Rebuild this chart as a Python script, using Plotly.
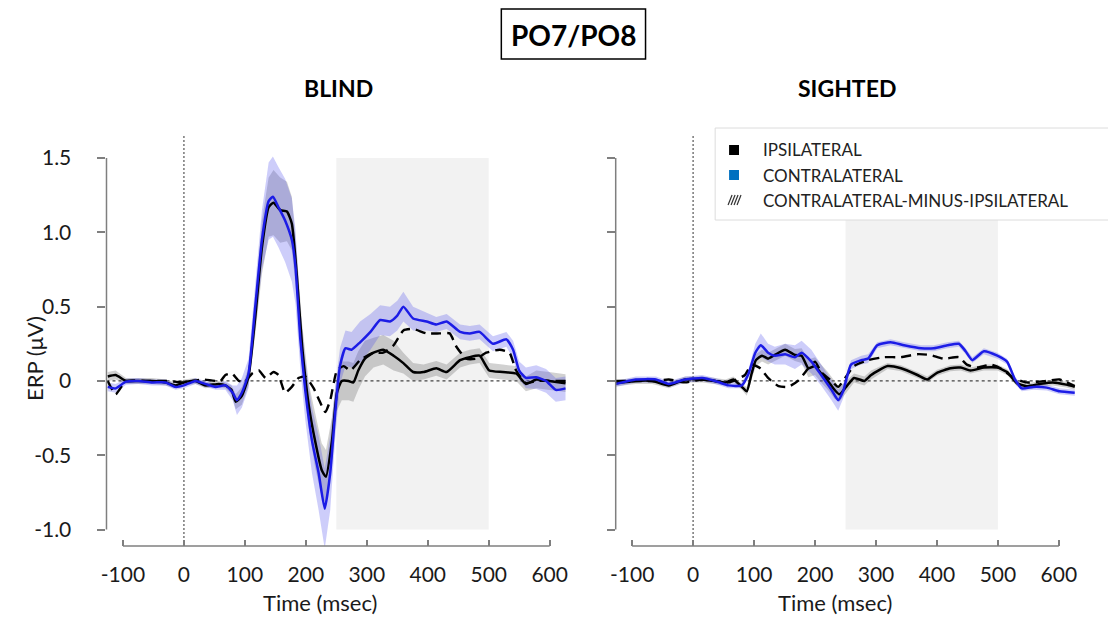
import plotly.graph_objects as go

# ---------------- data ----------------
x_tick_vals = [-100, 0, 100, 200, 300, 400, 500, 600]
x_tick_text = ["-100", "0", "100", "200", "300", "400", "500", "600"]
y_tick_vals = [-1.0, -0.5, 0.0, 0.5, 1.0, 1.5]
y_tick_text = ["-1.0", "-0.5", "0", "0.5", "1.0", "1.5"]
window = [250, 500]

# BLIND
blind_contra_t = [-125, -112, -95, -75, -52, -30, -14, 0, 19, 35, 52, 68, 80, 87, 95, 106, 117, 128, 139, 146,
                  155, 166, 177, 183, 191, 199, 210, 221, 231, 240, 248, 256, 265, 275, 289, 306, 322, 338, 350,
                  360, 376, 398, 414, 431, 453, 469, 485, 507, 529, 540, 550, 561, 578, 594, 610, 626]
blind_contra_v = [-0.04, -0.05, -0.005, 0.0, -0.01, -0.01, -0.04, -0.03, 0.0, -0.02, -0.04, -0.03, -0.08, -0.13,
                  -0.08, 0.05, 0.5, 0.95, 1.21, 1.24, 1.17, 1.08, 0.95, 0.77, 0.28, -0.06, -0.4, -0.62, -0.86,
                  -0.62, -0.22, 0.1, 0.22, 0.21, 0.26, 0.33, 0.41, 0.40, 0.44, 0.50, 0.42, 0.40, 0.38, 0.40, 0.33,
                  0.32, 0.33, 0.25, 0.28, 0.21, 0.07, 0.02, 0.025, 0.0, -0.06, -0.05]
blind_contra_se = [0.03, 0.03, 0.02, 0.02, 0.02, 0.02, 0.02, 0.02, 0.02, 0.02, 0.02, 0.03, 0.05, 0.1, 0.1, 0.1,
                   0.15, 0.2, 0.26, 0.27, 0.27, 0.28, 0.28, 0.25, 0.2, 0.2, 0.22, 0.25, 0.27, 0.25, 0.18, 0.12,
                   0.12, 0.12, 0.14, 0.12, 0.1, 0.1, 0.1, 0.1, 0.08, 0.06, 0.05, 0.05, 0.05, 0.05, 0.05, 0.05,
                   0.05, 0.06, 0.06, 0.07, 0.08, 0.08, 0.08, 0.08]

blind_ipsi_t = [-125, -112, -95, -74, -52, -30, -14, 0, 19, 35, 57, 68, 78, 85, 95, 106, 117, 128, 139, 147, 158,
                169, 177, 185, 194, 205, 215, 226, 233, 243, 251, 259, 270, 278, 286, 297, 311, 327, 344, 360, 376,
                393, 414, 431, 453, 469, 485, 501, 523, 545, 561, 578, 599, 626]
blind_ipsi_v = [0.03, 0.04, 0.0, 0.0, 0.0, -0.01, -0.03, -0.01, 0.0, -0.03, -0.02, -0.03, -0.06, -0.14, -0.1,
                0.03, 0.43, 0.9, 1.17, 1.2, 1.15, 1.14, 1.06, 0.72, 0.23, -0.17, -0.4, -0.6, -0.645, -0.4, -0.08,
                0.0, 0.0, -0.01, 0.07, 0.15, 0.19, 0.21, 0.17, 0.12, 0.06, 0.06, 0.085, 0.06, 0.14, 0.16, 0.17,
                0.07, 0.06, 0.05, -0.02, 0.01, 0.0, -0.015]
blind_ipsi_se = [0.03, 0.03, 0.02, 0.02, 0.02, 0.02, 0.02, 0.02, 0.02, 0.02, 0.02, 0.02, 0.03, 0.05, 0.06, 0.06,
                 0.12, 0.18, 0.2, 0.22, 0.22, 0.2, 0.18, 0.15, 0.15, 0.15, 0.18, 0.18, 0.18, 0.16, 0.12, 0.13,
                 0.13, 0.13, 0.13, 0.12, 0.1, 0.1, 0.1, 0.07, 0.06, 0.05, 0.05, 0.05, 0.05, 0.05, 0.05, 0.05,
                 0.05, 0.05, 0.05, 0.06, 0.06, 0.06]

blind_diff_t = [-125, -112, -95, -60, -30, 0, 30, 60, 68, 79, 90, 101, 112, 123, 134, 147, 155, 166, 177, 188,
                199, 213, 222, 232, 240, 251, 262, 273, 289, 311, 327, 344, 360, 376, 398, 420, 436, 447, 463, 480,
                496, 518, 534, 545, 561, 578, 599, 626]
blind_diff_v = [0.0, -0.09, 0.0, 0.0, 0.0, -0.01, 0.01, 0.0, 0.04, 0.05, 0.0, 0.0, 0.05, 0.07, 0.02, 0.06, 0.04,
                -0.08, -0.04, 0.02, 0.03, -0.05, -0.13, -0.21, -0.13, 0.07, 0.10, 0.07, 0.14, 0.19, 0.19, 0.24,
                0.34, 0.35, 0.32, 0.32, 0.32, 0.23, 0.15, 0.15, 0.19, 0.21, 0.19, 0.07, -0.015, 0.0, 0.0, 0.0]

# SIGHTED
sighted_contra_t = [-127, -94, -61, -40, -13, 15, 36, 58, 80, 91, 102, 111, 123, 134, 151, 167, 178, 194, 210,
                    227, 238, 246, 259, 276, 287, 302, 324, 346, 374, 395, 417, 436, 447, 458, 477, 499, 515, 528,
                    539, 558, 580, 601, 626]
sighted_contra_v = [-0.02, 0.01, 0.01, -0.02, 0.01, 0.02, 0.0, -0.03, -0.03, 0.05, 0.19, 0.24, 0.19, 0.17, 0.18,
                    0.16, 0.19, 0.13, 0.04, -0.06, -0.13, -0.07, 0.11, 0.14, 0.15, 0.24, 0.26, 0.24, 0.22, 0.22,
                    0.24, 0.25, 0.2, 0.14, 0.2, 0.17, 0.13, 0.01, -0.05, -0.04, -0.045, -0.07, -0.08]
sighted_contra_se = [0.02, 0.02, 0.02, 0.02, 0.02, 0.02, 0.02, 0.02, 0.02, 0.03, 0.06, 0.08, 0.06, 0.06, 0.07,
                     0.08, 0.08, 0.08, 0.07, 0.07, 0.07, 0.05, 0.03, 0.03, 0.03, 0.02, 0.02, 0.02, 0.02, 0.02,
                     0.02, 0.02, 0.02, 0.02, 0.02, 0.02, 0.02, 0.02, 0.02, 0.02, 0.02, 0.02, 0.02]

sighted_ipsi_t = [-127, -94, -67, -40, -13, 15, 36, 53, 66, 80, 88, 96, 103, 113, 123, 134, 151, 167, 178, 189,
                  200, 210, 221, 232, 240, 251, 264, 281, 292, 319, 341, 368, 384, 400, 422, 439, 455, 477, 499,
                  515, 531, 547, 569, 590, 612, 626]
sighted_ipsi_v = [-0.015, 0.0, 0.0, -0.03, 0.01, 0.01, 0.0, -0.01, 0.01, -0.04, -0.07, 0.05, 0.14, 0.17, 0.15,
                  0.175, 0.21, 0.175, 0.17, 0.085, 0.1, 0.05, 0.0, -0.06, -0.09, -0.04, 0.02, 0.0, 0.04, 0.1,
                  0.085, 0.04, 0.01, 0.055, 0.085, 0.09, 0.07, 0.09, 0.09, 0.06, -0.015, -0.035, -0.02, -0.01,
                  -0.025, -0.04]
sighted_ipsi_se = [0.02, 0.02, 0.02, 0.02, 0.02, 0.02, 0.02, 0.02, 0.02, 0.02, 0.03, 0.04, 0.04, 0.04, 0.04,
                   0.04, 0.04, 0.04, 0.05, 0.06, 0.06, 0.06, 0.06, 0.06, 0.05, 0.04, 0.03, 0.03, 0.03, 0.02,
                   0.02, 0.02, 0.02, 0.02, 0.02, 0.02, 0.02, 0.02, 0.02, 0.02, 0.02, 0.02, 0.02, 0.02, 0.02, 0.02]

sighted_diff_t = [-127, -94, -61, -40, -13, 15, 58, 85, 96, 110, 123, 140, 156, 172, 189, 200, 210, 227, 238,
                  251, 264, 287, 313, 341, 368, 389, 411, 436, 449, 466, 488, 504, 526, 547, 580, 601, 626]
sighted_diff_v = [0.0, 0.0, 0.0, 0.01, -0.01, 0.01, -0.01, 0.04, 0.11, 0.085, 0.02, -0.035, -0.04, 0.0, 0.085,
                  0.13, 0.06, 0.0, -0.04, 0.03, 0.1, 0.14, 0.16, 0.16, 0.18, 0.175, 0.15, 0.16, 0.11, 0.09,
                  0.11, 0.085, 0.02, -0.01, 0.0, 0.01, -0.035]

legend_labels = ["IPSILATERAL", "CONTRALATERAL", "CONTRALATERAL-MINUS-IPSILATERAL"]
panel_titles = ["BLIND", "SIGHTED"]

# ---------------- styling ----------------
OFF = 8                      # page body margin in the browser
W, H = 1116 - 2 * OFF, 625 - 2 * OFF
FONT = "Lato"
BLUE = "#1c1ce6"
CONTRA_BAND = "rgba(70,70,235,0.27)"
IPSI_BAND = "rgba(90,90,90,0.28)"
AXIS_GRAY = "#7f7f7f"
TEXT = "#1a1a1a"
X_RANGE = [-127, 630]
Y_RANGE = [-1.111, 1.66]


def px(x):
    return (x - OFF) / W


def py(y):
    return 1 - (y - OFF) / H


fig = go.Figure()


def band(t, v, se, color, xa, ya):
    upper = [a + b for a, b in zip(v, se)]
    lower = [a - b for a, b in zip(v, se)]
    fig.add_trace(go.Scatter(x=list(t) + list(t)[::-1], y=upper + lower[::-1], fill="toself",
                             fillcolor=color, line=dict(width=0), mode="lines", hoverinfo="skip",
                             showlegend=False, xaxis=xa, yaxis=ya))


def line(t, v, color, xa, ya, dash="solid", width=2.5):
    fig.add_trace(go.Scatter(x=t, y=v, mode="lines",
                             line=dict(color=color, width=width, dash=dash, shape="spline", smoothing=0.5),
                             showlegend=False, xaxis=xa, yaxis=ya))


panels = [
    ("x", "y", blind_contra_t, blind_contra_v, blind_contra_se, blind_ipsi_t, blind_ipsi_v, blind_ipsi_se,
     blind_diff_t, blind_diff_v),
    ("x2", "y2", sighted_contra_t, sighted_contra_v, sighted_contra_se, sighted_ipsi_t, sighted_ipsi_v,
     sighted_ipsi_se, sighted_diff_t, sighted_diff_v),
]
for xa, ya, ct, cv, cse, it, iv, ise, dt, dv in panels:
    band(it, iv, ise, IPSI_BAND, xa, ya)
    band(ct, cv, cse, CONTRA_BAND, xa, ya)
    line(dt, dv, "black", xa, ya, dash="10px,6px", width=2.4)
    line(it, iv, "black", xa, ya)
    line(ct, cv, BLUE, xa, ya)

# axis geometry (pixels in the page)
x_dom_px = [(101, 565), (613, 1077)]
y_top_px, y_bot_px = 134.3, 546

axis_common = dict(range=X_RANGE, tickvals=x_tick_vals, ticktext=x_tick_text, ticks="inside", ticklen=6,
                   tickwidth=1.5, tickcolor=AXIS_GRAY, showline=False, showgrid=False, zeroline=False,
                   tickfont=dict(family=FONT, size=21, color=TEXT), ticklabelstandoff=14)
yaxis_common = dict(range=Y_RANGE, tickvals=y_tick_vals, ticks="outside", ticklen=8, tickwidth=1.5,
                    tickcolor=AXIS_GRAY, showline=False, showgrid=False, zeroline=False,
                    domain=[py(y_bot_px), py(y_top_px)], tickfont=dict(family=FONT, size=21, color=TEXT),
                    ticklabelstandoff=22)

shapes = []
annotations = []


def text(x, y, s, size, color=TEXT, xanchor="center", angle=0):
    annotations.append(dict(x=px(x), y=py(y), xref="paper", yref="paper", text=s, showarrow=False,
                            xanchor=xanchor, yanchor="middle", textangle=angle,
                            font=dict(family=FONT, size=size, color=color)))


for i, (xa, ya) in enumerate([("x", "y"), ("x2", "y2")]):
    x0p, x1p = x_dom_px[i]
    # analysis window
    shapes.append(dict(type="rect", xref=xa, yref=ya, x0=window[0], x1=window[1], y0=-1.0, y1=1.5,
                       fillcolor="#f2f2f2", line=dict(width=0), layer="below"))
    # zero lines
    shapes.append(dict(type="line", xref=xa, yref=ya, x0=X_RANGE[0], x1=X_RANGE[1], y0=0, y1=0,
                       line=dict(color="#444444", width=1.2, dash="3px,3px"), layer="below"))
    shapes.append(dict(type="line", xref=xa, yref=ya, x0=0, x1=0, y0=Y_RANGE[0], y1=1.65,
                       line=dict(color="#777777", width=1.5, dash="2px,2px"), layer="below"))
    # axis lines (offset matlab-style)
    shapes.append(dict(type="line", xref="paper", yref=ya, x0=px(x0p), x1=px(x0p), y0=-1.0, y1=1.5,
                       line=dict(color=AXIS_GRAY, width=1.5)))
    shapes.append(dict(type="line", xref=xa, yref="paper", x0=-100, x1=600, y0=py(y_bot_px), y1=py(y_bot_px),
                       line=dict(color=AXIS_GRAY, width=1.5)))
    text((334, 846)[i], 88, "<b>%s</b>" % panel_titles[i], 23, color="black")
    text((316, 834)[i], 602, "Time (msec)", 22)

text(28, 358, "ERP (\u03bcV)", 22, angle=-90)

# main title box
shapes.append(dict(type="rect", xref="paper", yref="paper", x0=px(498), x1=px(643), y0=py(59), y1=py(9),
                   line=dict(color="black", width=1.5), fillcolor="white"))
text(570.5, 35, "<b>PO7/PO8</b>", 28, color="black")

# legend box
shapes.append(dict(type="rect", xref="paper", yref="paper", x0=px(713), x1=px(1125), y0=py(220), y1=py(128),
                   line=dict(color="#dcdcdc", width=1), fillcolor="white", layer="above"))
row_y = [150, 175, 200]
shapes.append(dict(type="rect", xref="paper", yref="paper", x0=px(727), x1=px(737), y0=py(row_y[0] + 5),
                   y1=py(row_y[0] - 5), fillcolor="black", line=dict(width=0)))
shapes.append(dict(type="rect", xref="paper", yref="paper", x0=px(727), x1=px(737), y0=py(row_y[1] + 5),
                   y1=py(row_y[1] - 5), fillcolor="#0070c0", line=dict(width=0)))
for k in range(4):
    off = k * 3
    shapes.append(dict(type="line", xref="paper", yref="paper", x0=px(726 + off), x1=px(730 + off),
                       y0=py(row_y[2] + 5), y1=py(row_y[2] - 5), line=dict(color="#333333", width=1.2)))
for lab, ry in zip(legend_labels, row_y):
    text(759, ry, lab, 17, color="#222222", xanchor="left")

fig.update_layout(
    width=W, height=H, autosize=False,
    margin=dict(l=0, r=0, t=0, b=0),
    paper_bgcolor="white", plot_bgcolor="rgba(0,0,0,0)",
    showlegend=False,
    xaxis=dict(domain=[px(x_dom_px[0][0]), px(x_dom_px[0][1])], anchor="y", **axis_common),
    xaxis2=dict(domain=[px(x_dom_px[1][0]), px(x_dom_px[1][1])], anchor="y2", **axis_common),
    yaxis=dict(anchor="x", ticktext=y_tick_text, showticklabels=True, **yaxis_common),
    yaxis2=dict(anchor="x2", showticklabels=False, **yaxis_common),
    shapes=shapes, annotations=annotations,
)

fig.write_html("out.html")
